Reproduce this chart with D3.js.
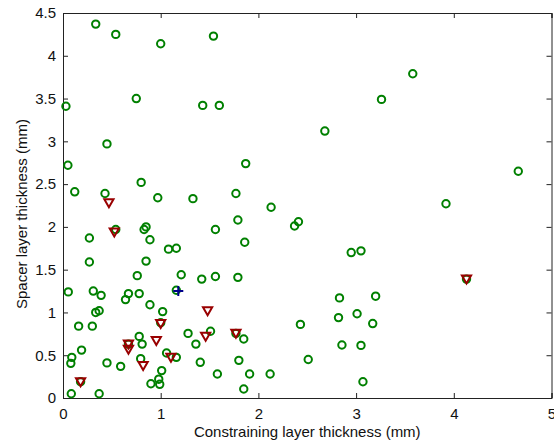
<!DOCTYPE html>
<html>
<head>
<meta charset="utf-8">
<script src="https://cdn.jsdelivr.net/npm/d3@7"></script>
<style>
  html, body { margin: 0; padding: 0; background: #fff; }
  svg { display: block; }
  text { font-family: "Liberation Sans", Arial, sans-serif; }
</style>
</head>
<body>
<svg id="chart" width="554" height="446"></svg>
<script>
// Sample measurements: constraining layer thickness (x, mm) vs spacer layer thickness (y, mm)
const greenX = [0.335,0.54,1.00,1.54,0.03,0.75,1.43,1.60,0.45,2.68,3.58,3.26,4.66,3.92,1.87,0.05,
  0.12,0.43,0.80,0.97,1.33,1.56,0.27,0.54,0.85,0.83,0.89,1.08,1.16,0.27,0.85,1.77,2.13,1.79,1.86,2.37,2.41,2.95,3.05,3.20,4.13,
  0.76,1.21,1.42,1.56,1.79,0.054,0.31,0.39,0.67,0.64,0.78,1.16,0.89,1.02,0.335,0.37,0.16,0.30,1.00,1.28,1.51,1.36,0.78,0.81,0.67,
  0.19,0.09,0.08,0.45,0.59,0.795,1.06,1.16,1.405,1.58,1.01,0.98,0.99,0.90,0.085,0.37,1.77,1.85,1.80,1.91,2.12,1.85,2.43,2.51,
  2.83,2.82,3.01,3.17,2.855,3.05,3.07,0.18];
const greenY = [4.37,4.25,4.14,4.23,3.41,3.50,3.42,3.42,2.97,3.12,3.79,3.49,2.65,2.27,2.74,2.72,
  2.41,2.39,2.52,2.34,2.33,1.97,1.87,1.97,2.00,1.97,1.85,1.74,1.75,1.59,1.60,2.39,2.23,2.08,1.82,2.01,2.06,1.70,1.72,1.19,1.39,
  1.43,1.44,1.39,1.42,1.41,1.24,1.25,1.20,1.22,1.15,1.22,1.26,1.09,1.01,1.00,1.02,0.84,0.84,0.88,0.755,0.78,0.63,0.72,0.63,0.63,
  0.56,0.475,0.405,0.41,0.37,0.46,0.526,0.475,0.417,0.28,0.32,0.22,0.16,0.167,0.05,0.05,0.755,0.69,0.44,0.28,0.28,0.105,0.86,0.45,
  1.17,0.94,0.985,0.87,0.62,0.615,0.19,0.19];

const redX = [0.47,0.525,1.48,1.00,1.46,1.77,0.67,0.67,0.955,0.82,1.105,0.18,4.13];
const redY = [2.28,1.94,1.02,0.87,0.72,0.755,0.63,0.57,0.67,0.38,0.475,0.19,1.39];

const blueX = [1.18];
const blueY = [1.25];

const xTicks = [0, 1, 2, 3, 4, 5];
const yTicks = [0, 0.5, 1, 1.5, 2, 2.5, 3, 3.5, 4, 4.5];

const xTitle = "Constraining layer thickness (mm)";
const yTitle = "Spacer layer thickness (mm)";

const svg = d3.select("#chart");
const L = 63, R = 551.5, T = 13, B = 398;
const x = d3.scaleLinear().domain([0, 5]).range([L, R]);
const y = d3.scaleLinear().domain([0, 4.5]).range([B, T]);

const axisColor = "#222";
const tickLen = 5;

// bottom axis with inward ticks
const gx = svg.append("g").attr("transform", `translate(0,${B})`)
  .call(d3.axisBottom(x).tickValues(xTicks).tickSize(-tickLen).tickPadding(8).tickFormat(d3.format("")));
// top mirror ticks
const gxt = svg.append("g").attr("transform", `translate(0,${T})`)
  .call(d3.axisTop(x).tickValues(xTicks).tickSize(-tickLen).tickFormat(""));
// left axis
const gy = svg.append("g").attr("transform", `translate(${L},0)`)
  .call(d3.axisLeft(y).tickValues(yTicks).tickSize(-tickLen).tickPadding(7).tickFormat(d3.format("")));
// right mirror ticks
const gyr = svg.append("g").attr("transform", `translate(${R},0)`)
  .call(d3.axisRight(y).tickValues(yTicks).tickSize(-tickLen).tickFormat(""));

[gx, gxt, gy, gyr].forEach(g => {
  g.select(".domain").attr("stroke", axisColor).attr("stroke-width", 1);
  g.selectAll(".tick line").attr("stroke", axisColor).attr("stroke-width", 1);
  g.selectAll(".tick text").attr("fill", "#111").style("font-size", "15px")
    .style("font-family", '"Liberation Sans", Arial, sans-serif');
});
gx.selectAll(".tick text").attr("dy", "0.85em");

// axis titles
svg.append("text").attr("x", (L + R) / 2).attr("y", 437)
  .attr("text-anchor", "middle").style("font-size", "15px").attr("fill", "#111").text(xTitle);
svg.append("text").attr("transform", `translate(27,214) rotate(-90)`)
  .attr("text-anchor", "middle").style("font-size", "15px").attr("fill", "#111").text(yTitle);

// green circles
const plot = svg.append("g");
plot.selectAll("circle.g").data(d3.range(greenX.length)).join("circle")
  .attr("class", "g")
  .attr("cx", i => x(greenX[i])).attr("cy", i => y(greenY[i]))
  .attr("r", 3.7).attr("fill", "none").attr("stroke", "#008000").attr("stroke-width", 2);

// red downward triangles
const tri = "M-4.6,-3.6L4.6,-3.6L0,4.4Z";
plot.selectAll("path.r").data(d3.range(redX.length)).join("path")
  .attr("class", "r")
  .attr("d", tri)
  .attr("transform", i => `translate(${x(redX[i])},${y(redY[i])})`)
  .attr("fill", "none").attr("stroke", "#990000").attr("stroke-width", 2).attr("stroke-linejoin", "miter");

// blue plus
plot.selectAll("path.b").data(d3.range(blueX.length)).join("path")
  .attr("class", "b")
  .attr("d", "M-5,0H5M0,-5V5")
  .attr("transform", i => `translate(${x(blueX[i])},${y(blueY[i])})`)
  .attr("fill", "none").attr("stroke", "#00008b").attr("stroke-width", 2);
</script>
</body>
</html>
